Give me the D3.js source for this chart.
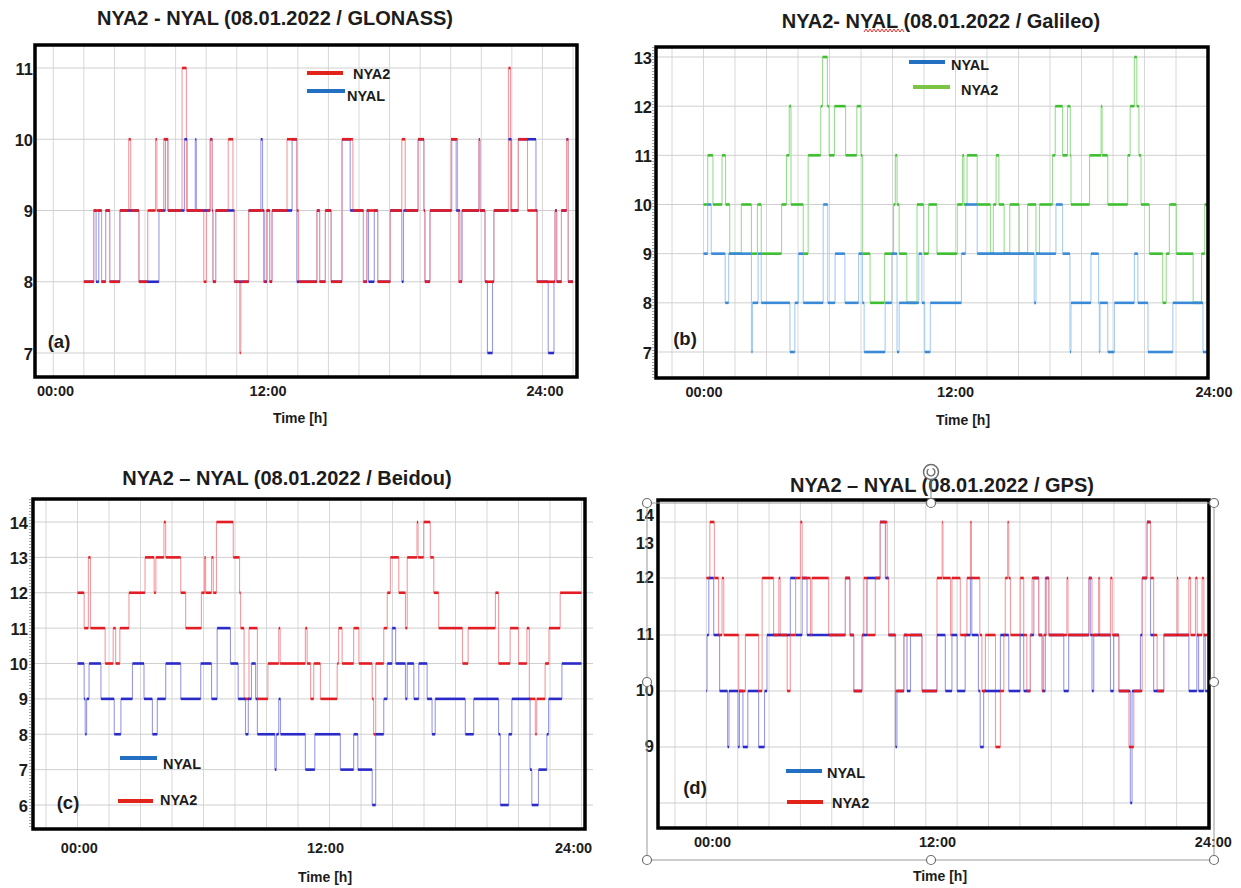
<!DOCTYPE html>
<html>
<head>
<meta charset="utf-8">
<script src="https://cdn.jsdelivr.net/npm/d3@7"></script>
<style>
  body { margin: 0; background: #fff; }
  svg text { font-family: "Liberation Sans", Arial, sans-serif; font-weight: bold; fill: #1c1c1c; }
</style>
</head>
<body>
<svg id="fig" width="1241" height="888"></svg>
<script>
// Satellite counts for the two stations on 08.01.2022.
// Each entry: [minutes after 00:00 at which the count changes, new count]

const glonassNYA2 = [[0,8],[29,9],[52,8],[64,9],[76,8],[106,9],[132,10],[138,9],[162,8],[188,9],[211,10],[215,9],[235,10],[248,9],[289,11],[302,9],[353,8],[361,9],[372,10],[378,9],[380,8],[388,9],[425,10],[439,9],[443,8],[459,7],[462,8],[485,9],[529,8],[537,9],[547,8],[554,9],[598,10],[627,9],[632,8],[686,9],[694,8],[711,9],[728,8],[760,10],[792,9],[823,8],[833,9],[865,8],[902,9],[936,10],[946,9],[984,10],[1001,9],[1004,8],[1019,9],[1081,10],[1100,9],[1103,8],[1113,9],[1163,10],[1166,9],[1181,8],[1207,9],[1250,11],[1256,9],[1279,10],[1306,9],[1333,8],[1387,9],[1392,8],[1406,9],[1421,10],[1426,8]];

const glonassNYAL = [[0,8],[29,9],[36,8],[44,9],[52,8],[64,9],[76,8],[106,9],[162,8],[221,9],[240,10],[247,9],[296,10],[304,9],[328,10],[331,9],[372,10],[378,9],[380,8],[388,9],[443,8],[485,9],[521,10],[526,9],[531,8],[539,9],[547,8],[554,9],[613,10],[627,8],[686,9],[694,8],[711,9],[728,8],[760,10],[784,9],[823,8],[833,9],[838,8],[855,9],[865,8],[902,9],[936,8],[941,9],[984,10],[1001,9],[1004,8],[1019,9],[1083,10],[1096,9],[1107,8],[1113,9],[1163,10],[1166,9],[1181,8],[1188,7],[1203,8],[1207,9],[1250,10],[1259,9],[1279,10],[1331,9],[1335,8],[1367,7],[1384,8],[1387,9],[1392,8],[1406,9],[1421,10],[1426,8]];

const galileoNYA2 = [[0,10],[12,11],[27,10],[53,11],[63,10],[75,9],[108,10],[137,9],[154,10],[165,9],[223,10],[237,11],[245,12],[250,10],[285,9],[299,11],[335,12],[340,13],[354,12],[359,11],[374,12],[406,11],[438,12],[450,11],[454,9],[476,8],[517,9],[543,10],[548,11],[553,10],[559,9],[581,8],[610,10],[629,9],[643,10],[667,9],[725,10],[740,11],[744,10],[753,11],[782,10],[820,9],[828,10],[836,11],[844,10],[859,9],[875,10],[902,9],[926,10],[950,9],[960,10],[997,11],[1005,12],[1026,11],[1040,12],[1048,11],[1050,10],[1103,11],[1136,12],[1139,11],[1155,10],[1212,11],[1219,12],[1231,13],[1238,12],[1244,11],[1250,10],[1274,9],[1312,8],[1322,9],[1331,10],[1351,9],[1399,8],[1423,9],[1432,10]];

const galileoNYAL = [[0,9],[12,10],[22,9],[62,8],[72,9],[137,7],[140,8],[156,9],[165,8],[247,7],[261,8],[271,9],[285,8],[342,10],[355,8],[376,9],[404,8],[443,9],[454,8],[459,7],[519,8],[538,9],[553,7],[559,8],[615,9],[624,8],[632,7],[648,8],[737,9],[749,10],[782,9],[945,8],[950,9],[1007,10],[1026,9],[1047,7],[1050,8],[1107,9],[1129,8],[1131,7],[1133,8],[1155,7],[1174,8],[1231,9],[1241,8],[1270,7],[1341,8],[1427,7]];

const beidouNYA2 = [[0,12],[19,11],[31,13],[37,11],[79,10],[102,11],[109,10],[121,11],[147,12],[193,13],[219,12],[224,13],[247,14],[252,13],[295,12],[309,11],[354,12],[363,13],[366,12],[383,13],[388,12],[397,14],[445,13],[463,12],[466,11],[476,9],[490,11],[514,9],[544,10],[575,11],[579,10],[651,11],[656,10],[666,9],[675,10],[694,9],[742,10],[746,11],[756,10],[789,11],[804,10],[842,9],[846,8],[852,10],[875,11],[885,12],[894,13],[918,12],[937,11],[942,13],[970,14],[973,13],[989,14],[1008,13],[1018,12],[1032,11],[1100,10],[1116,11],[1194,12],[1203,10],[1236,11],[1260,10],[1284,11],[1291,9],[1308,8],[1312,9],[1336,10],[1347,11],[1379,12]];

const beidouNYAL = [[0,10],[19,9],[22,8],[26,9],[33,10],[67,9],[105,8],[124,9],[157,10],[190,9],[214,8],[228,9],[252,10],[295,9],[352,10],[383,9],[399,11],[437,10],[459,9],[480,8],[488,9],[497,10],[509,9],[514,8],[564,7],[568,8],[575,9],[580,8],[651,7],[678,8],[751,7],[789,8],[801,7],[842,6],[852,8],[875,9],[885,10],[899,11],[909,10],[937,9],[942,10],[961,9],[975,10],[999,9],[1013,8],[1022,9],[1108,8],[1132,9],[1203,8],[1208,6],[1232,8],[1241,9],[1293,7],[1298,6],[1317,7],[1341,8],[1346,9],[1384,10]];

const gpsNYA2 = [[0,12],[10,14],[23,12],[35,11],[45,12],[50,11],[93,10],[112,11],[150,10],[160,12],[193,11],[208,12],[212,11],[232,10],[241,11],[256,12],[270,14],[275,12],[299,11],[303,12],[351,11],[399,12],[412,11],[423,10],[447,11],[452,12],[461,11],[485,12],[499,14],[519,12],[523,11],[543,10],[567,11],[619,10],[662,12],[677,14],[679,12],[701,11],[705,12],[729,11],[748,12],[758,14],[761,12],[785,11],[791,10],[801,11],[830,9],[844,10],[854,11],[858,12],[865,14],[868,12],[873,11],[901,12],[911,11],[920,10],[930,11],[935,12],[954,11],[964,10],[968,11],[976,12],[983,11],[1035,12],[1038,11],[1098,12],[1107,11],[1126,12],[1129,11],[1160,12],[1165,11],[1184,10],[1213,9],[1227,10],[1251,12],[1265,14],[1275,12],[1284,11],[1294,10],[1313,11],[1351,12],[1354,11],[1385,12],[1390,11],[1404,12],[1409,11],[1423,12],[1428,11]];

const gpsNYAL = [[0,10],[2,11],[7,12],[21,11],[38,10],[61,9],[65,10],[91,9],[95,10],[105,9],[119,10],[150,9],[167,10],[174,11],[241,12],[256,11],[275,12],[289,11],[399,12],[412,11],[423,10],[447,11],[461,12],[499,14],[514,12],[523,11],[543,9],[547,10],[567,11],[576,10],[586,11],[619,10],[662,11],[686,10],[705,11],[720,10],[743,11],[758,12],[762,11],[781,10],[786,9],[796,10],[844,11],[868,10],[901,11],[911,10],[930,11],[940,12],[954,11],[964,10],[973,12],[983,11],[1026,10],[1040,11],[1098,12],[1102,11],[1107,10],[1112,11],[1160,10],[1169,11],[1184,10],[1217,8],[1222,10],[1246,11],[1251,12],[1265,14],[1275,11],[1284,10],[1313,11],[1385,10],[1408,11],[1413,10],[1428,11],[1432,10]];

// Axis text
const timeLabels = ['00:00', '12:00', '24:00'];
const stationNames = ['NYA2', 'NYAL'];

const svg = d3.select('#fig');

const RED = { tread: '#e31b23', riser: '#f29aa0', key: '#e2231a' };
const BLUE = { tread: '#2a2ac8', riser: '#9898e8', key: '#2370c2' };
const SKY = { tread: '#3a8ad8', riser: '#a6cdf0', key: '#2370c2' };
const GREEN = { tread: '#3dbf2f', riser: '#98de8f', key: '#7cc443' };

const panels = [
  {
    title: 'NYA2 - NYAL (08.01.2022 / GLONASS)', titleX: 275, titleY: 25,
    box: [35, 45, 577, 377], xRange: [53.3, 573],
    y: d3.scaleLinear().domain([7, 11]).range([353, 68]),
    grid: [7, 8, 9, 10, 11], yTicks: [7, 8, 9, 10, 11], yLabelX: 33,
    xTickAt: [-85, 541, 1356], xLabelY: 396, axisTitle: [300, 423],
    letter: ['(a)', 59, 348],
    series: [[glonassNYAL, BLUE], [glonassNYA2, RED]],
    legend: [
      { name: stationNames[0], c: RED.key, x1: 307, x2: 343, y: 73, tx: 353, ty: 79 },
      { name: stationNames[1], c: BLUE.key, x1: 307, x2: 345, y: 91, tx: 347, ty: 101 }
    ]
  },
  {
    title: 'NYA2- NYAL (08.01.2022 / Galileo)', titleX: 941, titleY: 28,
    box: [656, 47, 1208, 378], xRange: [672, 1207.5],
    y: d3.scaleLinear().domain([7, 13]).range([352, 57]),
    grid: [7, 8, 9, 10, 11, 12, 13], yTicks: [7, 8, 9, 10, 11, 12, 13], yLabelX: 652,
    xTickAt: [0, 719, 1457], xLabelY: 397, axisTitle: [963, 425],
    letter: ['(b)', 685, 345], ruler: true,
    series: [[galileoNYA2, GREEN], [galileoNYAL, SKY]],
    legend: [
      { name: stationNames[1], c: SKY.key, x1: 909, x2: 945, y: 62, tx: 951, ty: 70 },
      { name: stationNames[0], c: GREEN.key, x1: 913, x2: 950, y: 87, tx: 961, ty: 95 }
    ]
  },
  {
    title: 'NYA2 \u2013 NYAL (08.01.2022 / Beidou)', titleX: 287, titleY: 485,
    box: [33, 499, 585, 829], xRange: [46, 581.5], gridRight: 593,
    y: d3.scaleLinear().domain([6, 14]).range([805, 522]),
    grid: [6, 7, 8, 9, 10, 11, 12, 13, 14], yTicks: [6, 7, 8, 9, 10, 11, 12, 13, 14], yLabelX: 28,
    xTickAt: [4, 707, 1416], xLabelY: 853, axisTitle: [325, 882],
    letter: ['(c)', 68, 809], ruler: true,
    series: [[beidouNYA2, RED], [beidouNYAL, BLUE]],
    legend: [
      { name: stationNames[1], c: BLUE.key, x1: 120, x2: 157, y: 758, tx: 163, ty: 769 },
      { name: stationNames[0], c: RED.key, x1: 118, x2: 153, y: 801, tx: 160, ty: 805 }
    ]
  },
  {
    title: 'NYA2 \u2013 NYAL (08.01.2022 / GPS)', titleX: 942, titleY: 492,
    box: [658, 500, 1209, 828], xRange: [675, 1208],
    y: d3.scaleLinear().domain([8, 9, 10, 11, 12, 14]).range([803, 747, 691, 635, 578, 522]),
    grid: [8, 9, 10, 11, 12, 14], yTicks: [9, 10, 11, 12, 13, 14], yLabelX: 654,
    yLabelShift: d => (d >= 13 ? -8 : -2),
    xTickAt: [16, 662, 1454], xLabelY: 847, axisTitle: [940, 881],
    letter: ['(d)', 695, 794],
    series: [[gpsNYAL, BLUE], [gpsNYA2, RED]],
    legend: [
      { name: stationNames[1], c: BLUE.key, x1: 786, x2: 822, y: 771, tx: 827, ty: 778 },
      { name: stationNames[0], c: RED.key, x1: 787, x2: 823, y: 802, tx: 832, ty: 808 }
    ]
  }
];

// Turn change points into horizontal runs with the count that follows each run
function toRuns(points) {
  return points.map((p, i) => ({
    t0: p[0],
    t1: i < points.length - 1 ? points[i + 1][0] : 1440,
    v: p[1],
    next: i < points.length - 1 ? points[i + 1][1] : null
  }));
}

function drawPanel(p) {
  const g = svg.append('g');
  const [bx0, by0, bx1, by1] = p.box;
  const x = d3.scaleLinear().domain([-90, 1440]).range(p.xRange);
  const y = p.y;

  // white plot area
  g.append('rect').attr('x', bx0).attr('y', by0).attr('width', bx1 - bx0).attr('height', by1 - by0).attr('fill', '#fff');

  // grid: one vertical line every 90 minutes, one horizontal line per count
  g.append('g').selectAll('line').data(d3.range(-90, 1441, 90)).join('line')
    .attr('x1', d => x(d)).attr('x2', d => x(d))
    .attr('y1', by0).attr('y2', by1)
    .attr('stroke', '#d8d8d8').attr('stroke-width', 1);
  g.append('g').selectAll('line').data(p.grid).join('line')
    .attr('x1', bx0).attr('x2', p.gridRight || bx1)
    .attr('y1', d => y(d)).attr('y2', d => y(d))
    .attr('stroke', '#cfcfcf').attr('stroke-width', 1);

  // step series: thin risers first, then the thicker level runs
  const runsList = p.series.map(([pts, col]) => ({ runs: toRuns(pts), col }));
  runsList.forEach(({ runs, col }) => {
    g.append('g').selectAll('line').data(runs.filter(r => r.next !== null)).join('line')
      .attr('x1', r => x(r.t1)).attr('x2', r => x(r.t1))
      .attr('y1', r => y(r.v)).attr('y2', r => y(r.next))
      .attr('stroke', col.riser).attr('stroke-width', 1.1);
  });
  runsList.forEach(({ runs, col }) => {
    g.append('g').selectAll('line').data(runs).join('line')
      .attr('x1', r => x(r.t0)).attr('x2', r => x(r.t1))
      .attr('y1', r => y(r.v)).attr('y2', r => y(r.v))
      .attr('stroke', col.tread).attr('stroke-width', 2.6);
  });

  // frame
  g.append('rect').attr('x', bx0).attr('y', by0).attr('width', bx1 - bx0).attr('height', by1 - by0)
    .attr('fill', 'none').attr('stroke', '#000').attr('stroke-width', 3.5);
  if (p.ruler) {
    g.append('line').attr('x1', bx0 - 3).attr('x2', bx0 - 3).attr('y1', by0).attr('y2', by1)
      .attr('stroke', '#8a8a8a').attr('stroke-width', 1.5).attr('stroke-dasharray', '1 2');
  }

  // y labels
  const yAxis = d3.axisLeft(y).tickValues(p.yTicks).tickSize(0).tickPadding(0).tickFormat(d3.format('d'));
  const ya = g.append('g').attr('transform', `translate(${p.yLabelX},0)`).call(yAxis);
  ya.attr('font-family', null).attr('font-size', null);
  ya.select('.domain').remove();
  ya.selectAll('text').attr('x', 0).attr('dy', d => (p.yLabelShift ? p.yLabelShift(d) : 0) + 6)
    .style('font-size', '16.5px').attr('text-anchor', 'end');

  // time labels
  const xAxis = d3.axisBottom(x).tickValues(p.xTickAt).tickSize(0).tickPadding(0)
    .tickFormat((d, i) => timeLabels[i]);
  const xa = g.append('g').attr('transform', `translate(0,${p.xLabelY})`).call(xAxis);
  xa.attr('font-family', null).attr('font-size', null);
  xa.select('.domain').remove();
  xa.selectAll('text').attr('y', 0).attr('dy', 0).style('font-size', '14.5px');

  g.append('text').attr('x', p.axisTitle[0]).attr('y', p.axisTitle[1])
    .attr('text-anchor', 'middle').style('font-size', '14px').text('Time [h]');

  // title
  g.append('text').attr('x', p.titleX).attr('y', p.titleY).attr('text-anchor', 'middle')
    .style('font-size', '20px').text(p.title);

  // panel letter
  g.append('text').attr('x', p.letter[1]).attr('y', p.letter[2]).attr('text-anchor', 'middle')
    .style('font-size', '18.5px').text(p.letter[0]);

  // legend
  const lg = g.append('g').selectAll('g').data(p.legend).join('g');
  lg.append('line').attr('x1', d => d.x1).attr('x2', d => d.x2).attr('y1', d => d.y).attr('y2', d => d.y)
    .attr('stroke', d => d.c).attr('stroke-width', 4);
  lg.append('text').attr('x', d => d.tx).attr('y', d => d.ty).style('font-size', '14.5px').text(d => d.name);
}

panels.forEach(drawPanel);

// spell-check squiggle under "NYAL" in the Galileo title
const sq = d3.range(0, 21).map(i => [864 + i * 2, i % 2 ? 29 : 32]);
svg.append('path').attr('d', d3.line()(sq)).attr('fill', 'none').attr('stroke', '#e0302a').attr('stroke-width', 1);

// selection frame around the GPS panel
const sel = svg.append('g');
sel.append('rect').attr('x', 647).attr('y', 503).attr('width', 567).attr('height', 357)
  .attr('fill', 'none').attr('stroke', '#9a9a9a').attr('stroke-width', 1);
sel.append('line').attr('x1', 931).attr('x2', 931).attr('y1', 479).attr('y2', 503)
  .attr('stroke', '#8a8a8a').attr('stroke-width', 1);
const handles = [[647, 503], [931, 503], [1214, 503], [647, 682], [1214, 682], [647, 860], [931, 860], [1214, 860]];
sel.selectAll('circle.h').data(handles).join('circle').attr('class', 'h')
  .attr('cx', d => d[0]).attr('cy', d => d[1]).attr('r', 4.5)
  .attr('fill', '#fff').attr('stroke', '#6e6e6e').attr('stroke-width', 1.2);
sel.append('circle').attr('cx', 931).attr('cy', 472).attr('r', 7.5)
  .attr('fill', '#fff').attr('stroke', '#6e6e6e').attr('stroke-width', 1.5);
sel.append('path').attr('d', d3.arc()({ innerRadius: 3.2, outerRadius: 4.6, startAngle: 0.4, endAngle: 5.6 }))
  .attr('transform', 'translate(931,472)').attr('fill', '#6e6e6e');
</script>
</body>
</html>
